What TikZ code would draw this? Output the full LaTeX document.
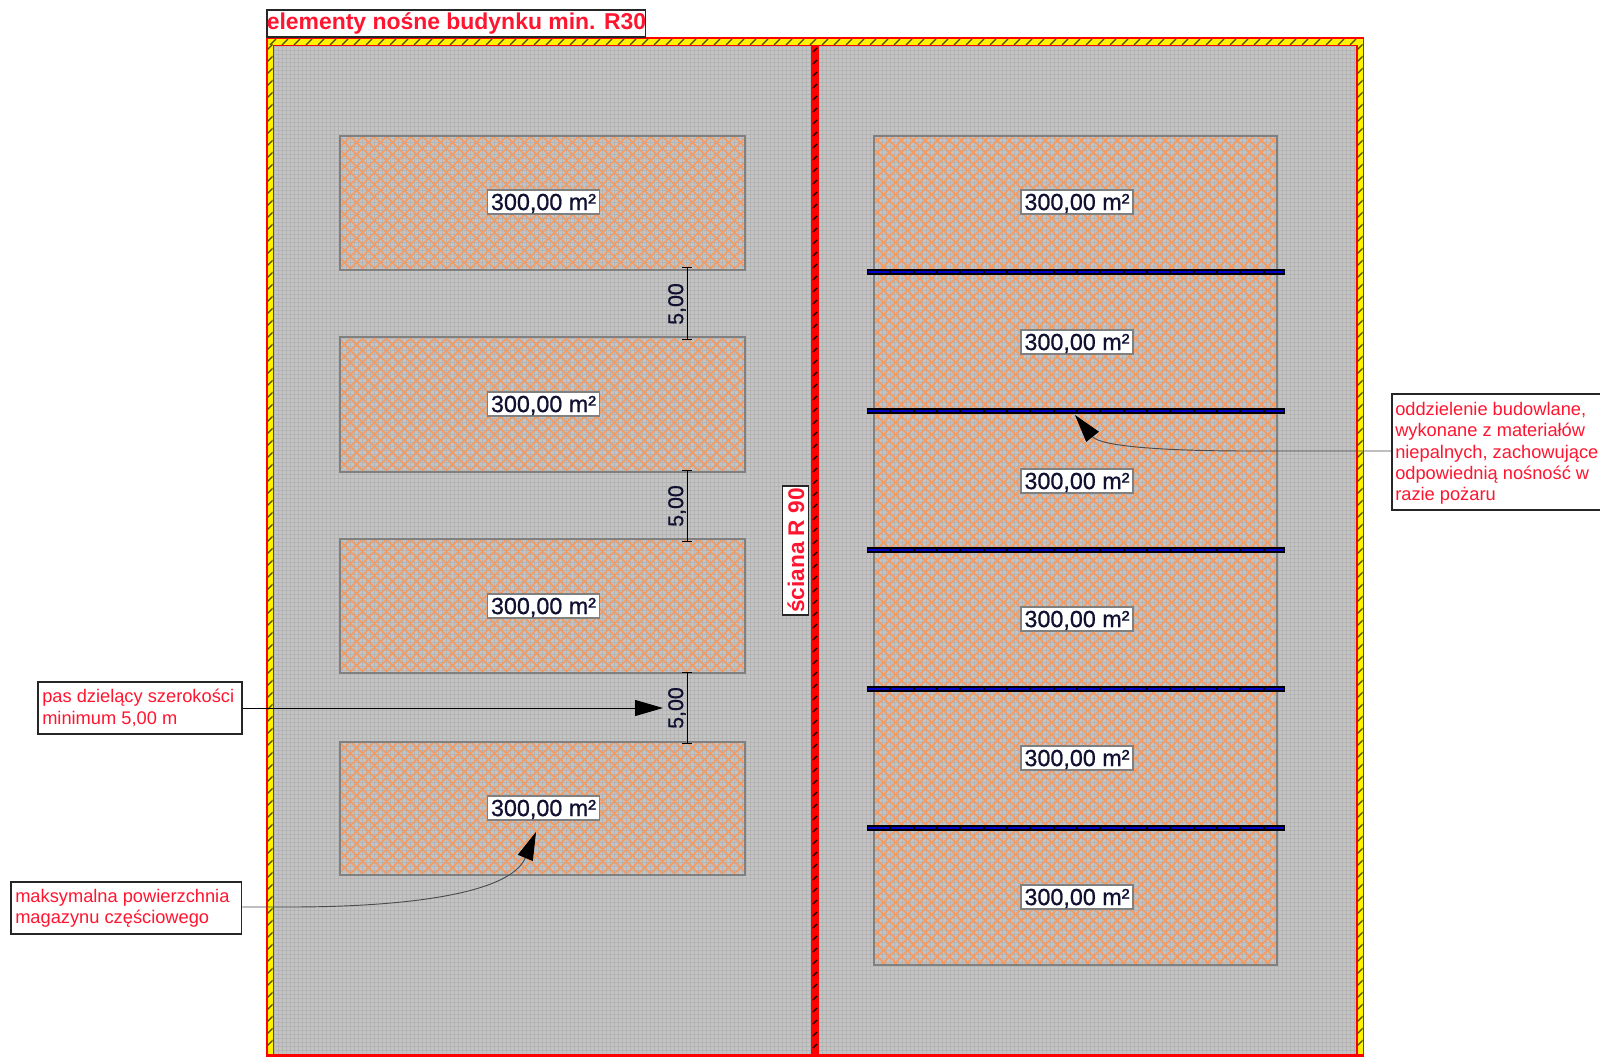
\documentclass[tikz,border=0pt]{standalone}
\usepackage{fontspec}
\setmainfont{Liberation Sans}
\newfontfamily\midface[FakeBold=0.8]{Liberation Sans}
\usetikzlibrary{arrows.meta}
\definecolor{floorgray}{HTML}{C4C4C4}
\definecolor{gridgray}{HTML}{B4B4B4}
\definecolor{hatchorange}{HTML}{F79A60}
\definecolor{edgegray}{HTML}{808080}
\definecolor{labelred}{HTML}{FF1530}
\definecolor{beamblue}{HTML}{0000C8}
\definecolor{tickdark}{HTML}{4A4A10}
\definecolor{inkdark}{HTML}{101030}
\tikzset{
  calloutbox/.style={draw=black!85,line width=1.2pt,fill=white,inner sep=0pt,anchor=north west},
  calloutfont/.style={text=labelred,font=\fontsize{13.7}{16}\selectfont,align=left},
  arealabel/.style={draw=edgegray,line width=1.1pt,fill=white,inner sep=0pt,minimum width=84pt,minimum height=18pt,text height=12.6pt,text depth=.5pt,text=inkdark,font=\midface\fontsize{17.5}{17.5}\selectfont},
  dimlabel/.style={rotate=90,text=inkdark,font=\midface\fontsize{16}{16}\selectfont,inner sep=0pt},
  dimline/.style={black,line width=.7pt,{Bar[width=7pt,line width=.7pt]}-{Bar[width=7pt,line width=.7pt]}},
  leader/.style={line width=.7pt,-{Triangle[length=21pt,width=12pt,color=black,fill=black]}},
  beamouter/.style={black,line width=3.8pt},
  beaminner/.style={beamblue,line width=2pt,dash pattern=on 16pt off 1.5pt},
}
\newcommand{\hatchrect}[4]{%
  \begin{scope}
    \clip (#1,#2) rectangle (#3,#4);
    \pgfmathsetmacro{\hh}{#4-#2}
    \pgfmathsetmacro{\sx}{#1-\hh}
    \pgfmathsetmacro{\sy}{\sx+12}
    \foreach \u in {\sx,\sy,...,#3}{
      \pgfmathsetmacro{\v}{\u+\hh}
      \draw[hatchorange,line width=1.3pt] (\u,#2) -- (\v,#4);
      \pgfmathsetmacro{\w}{#1+#3-\u}
      \pgfmathsetmacro{\z}{\w-\hh}
      \draw[hatchorange,line width=1.3pt] (\w,#2) -- (\z,#4);
    }
  \end{scope}
  \draw[edgegray,line width=1pt] (#1,#2) rectangle (#3,#4);
}
\begin{document}
\begin{tikzpicture}[x=.75pt,y=-.75pt]
\useasboundingbox (0,0) rectangle (1600,1057);
\fill[white] (0,0) rectangle (1600,1057);
% floor
\begin{scope}
  \clip (270,42) rectangle (1360,1057);
  \fill[floorgray] (270,42) rectangle (1360,1057);
  \foreach \x in {270,274,...,1360} \draw[gridgray,line width=.6pt] (\x,42) -- (\x,1057);
  \foreach \y in {42,46,...,1057} \draw[gridgray,line width=.6pt] (270,\y) -- (1360,\y);
\end{scope}
% outer fire-rated frame
\fill[red] (266,37) rectangle (1364,46);
\fill[red] (266,37) rectangle (274,1057);
\fill[red] (1356,37) rectangle (1364,1057);
\fill[red] (266,1054) rectangle (1364,1057);
\fill[yellow] (267.5,39) rectangle (1362.5,44.5);
\fill[yellow] (267.5,39) rectangle (272.5,1054);
\fill[yellow] (1357.5,39) rectangle (1362.5,1054);
\begin{scope}
  \clip (267.5,39) rectangle (1362.5,44.5);
  \foreach \x in {270,282,...,1360} \draw[tickdark,line width=.9pt] (\x,45) -- (\x+6,39);
\end{scope}
\begin{scope}
  \clip (267.5,44) rectangle (272.5,1054);
  \foreach \y in {50,62,...,1054} \draw[tickdark,line width=.9pt] (267,\y) -- (273,\y-6);
\end{scope}
\begin{scope}
  \clip (1357.5,44) rectangle (1362.5,1054);
  \foreach \y in {50,62,...,1054} \draw[tickdark,line width=.9pt] (1357,\y) -- (1363,\y-6);
\end{scope}
% central wall
\fill[red] (811,46) rectangle (819,1057);
\foreach \y in {52,64,...,1054} \draw[black,line width=.9pt] (813,\y) -- (817,\y-4);
% storage areas
\hatchrect{340}{136}{745}{270}
\hatchrect{340}{337}{745}{472}
\hatchrect{340}{539}{745}{673}
\hatchrect{340}{742}{745}{875}
\hatchrect{874}{136}{1277}{965}
% separating beams
\foreach \y in {272,411,550,689,828}{
  \draw[beamouter] (867,\y) -- (1285,\y);
  \draw[beaminner] (868,\y) -- (1284,\y);
}
% area labels
\node[arealabel] (a1) at (543.5,202) {300,00 m²};
\node[arealabel] (a2) at (543.5,404) {300,00 m²};
\node[arealabel] (a3) at (543.5,606) {300,00 m²};
\node[arealabel] (a4) at (543.5,808) {300,00 m²};
\node[arealabel] (b1) at (1077,202) {300,00 m²};
\node[arealabel] (b2) at (1077,342) {300,00 m²};
\node[arealabel] (b3) at (1077,481) {300,00 m²};
\node[arealabel] (b4) at (1077,619) {300,00 m²};
\node[arealabel] (b5) at (1077,758) {300,00 m²};
\node[arealabel] (b6) at (1077,897) {300,00 m²};
% dimensions
\coordinate (d1a) at (687,267); \coordinate (d1b) at (687,340);
\coordinate (d2a) at (687,470); \coordinate (d2b) at (687,542);
\coordinate (d3a) at (687,672); \coordinate (d3b) at (687,744);
\draw[dimline] (d1a) -- (d1b);
\draw[dimline] (d2a) -- (d2b);
\draw[dimline] (d3a) -- (d3b);
\node[dimlabel] (t1) at (677,304) {5,00};
\node[dimlabel] (t2) at (677,506) {5,00};
\node[dimlabel] (t3) at (677,708) {5,00};
% title and wall label
\node[calloutbox,minimum width=284pt,minimum height=20.25pt] (title) at (266,9) {};
\node[text=labelred,font=\bfseries\fontsize{17.2}{18}\selectfont,anchor=base west,inner sep=0pt] (titletext) at (266.5,29.5) {elementy nośne budynku min. R30};
\node[draw=black!85,line width=1.2pt,fill=white,minimum width=96.5pt,minimum height=19.5pt,inner sep=0pt,rotate=90] (wall) at (795.5,550.5) {};
\node[text=labelred,font=\bfseries\fontsize{17}{17}\selectfont,rotate=90,inner sep=0pt] (walltext) at (796,550.5) {ściana R 90};
% callouts
\node[calloutbox,minimum width=153pt,minimum height=39pt] (c1) at (37,681) {};
\node[calloutfont,anchor=north west,inner sep=0pt] (c1t) at (42,689) {pas dzielący szerokości\\minimum 5,00 m};
\node[calloutbox,minimum width=173pt,minimum height=39pt] (c2) at (10,881) {};
\node[calloutfont,anchor=north west,inner sep=0pt] (c2t) at (15,889) {maksymalna powierzchnia\\magazynu częściowego};
\node[calloutbox,minimum width=160pt,minimum height=87pt] (c3) at (1391,393) {};
\node[calloutfont,anchor=north west,inner sep=0pt] (c3t) at (1395,402) {oddzielenie budowlane,\\wykonane z materiałów\\niepalnych, zachowujące\\odpowiednią nośność w\\razie pożaru};
% leaders
\coordinate (c1tip) at (663,708);
\coordinate (c2tip) at (536,832);
\coordinate (c3tip) at (1075,415);
\draw[leader,black] (c1.east |- c1tip) -- (c1tip);
\draw[leader,black!70] (c2.east |- 0,907) -- (290,907) .. controls (400,907) and (510,895) .. (c2tip);
\draw[leader,black!70] (c3.west |- 0,451) -- (1250,451) .. controls (1160,451) and (1100,446) .. (c3tip);
\end{tikzpicture}
\end{document}
